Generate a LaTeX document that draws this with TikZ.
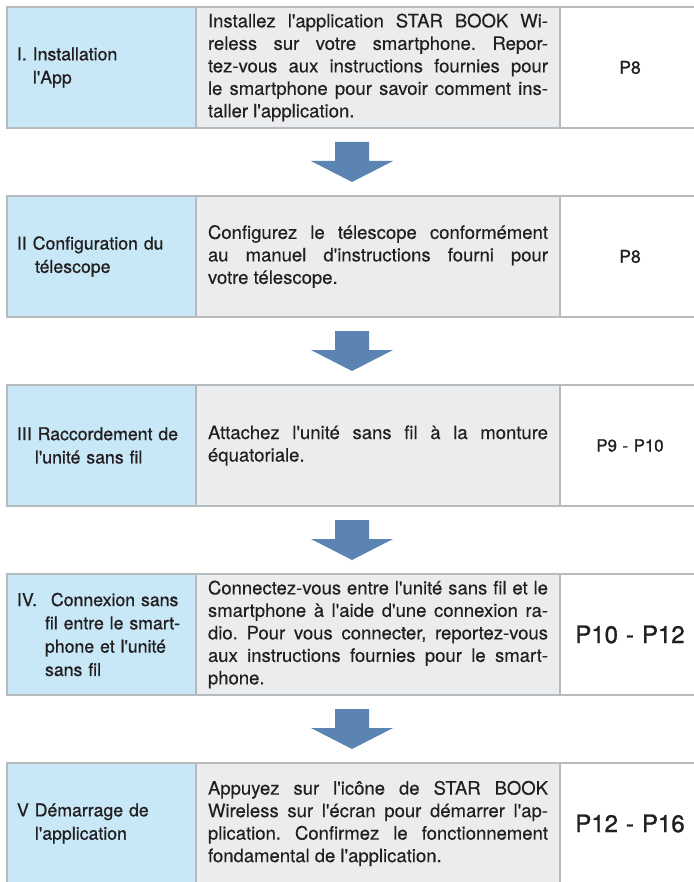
\documentclass[tikz,border=0pt]{standalone}
\usepackage{fontspec}
\setmainfont{TeX Gyre Heros}[Ligatures=TeXOff,FakeBold=0.3]
\newfontfamily\medfont{TeX Gyre Heros}[Ligatures=TeXOff,FakeBold=0.8]
\newfontfamily\pgfont{TeX Gyre Heros}[Ligatures=TeXOff,FakeBold=1.2]
\usetikzlibrary{positioning,calc}

\definecolor{labblue}{HTML}{C8E8F8}
\definecolor{txtgrey}{HTML}{EBECEE}
\definecolor{rulegrey}{HTML}{B7BBBE}
\definecolor{flowblue}{HTML}{5B84B3}
\definecolor{ink}{HTML}{231F20}

% block arrow from the bottom of one row to the top of the next
\newcommand{\flowarrow}[2]{%
  \fill[flowblue] ($(#1.south west)+(328,14)$) -- ++(34,0) -- ++(0,19) -- ++(24,0)
    -- ($(#2.north west)+(345,-14)$) -- ($(#1.south west)+(304,33)$) -- ++(24,0) -- cycle;}

\frenchspacing
\begin{document}
\begin{tikzpicture}[x=1pt,y=-1pt]
	\tikzset{cell/.style={draw=rulegrey, line width=2pt, minimum height=121pt, inner ysep=0pt, outer sep=0pt, text=ink}}
	\tikzset{labcell/.style={cell, fill=labblue, text width=169pt, inner xsep=10pt, align=left, anchor=north west, font=\medfont\fontsize{17.7}{23.3}\selectfont}}
	\tikzset{txtcell/.style={cell, fill=txtgrey, text width=340pt, inner xsep=12pt, align=justify, font=\fontsize{18.5}{22.5}\selectfont}}
	\tikzset{pgcell/.style={cell, fill=white, text width=116pt, inner xsep=12pt, align=center, font=\pgfont\fontsize{17.5}{21}\selectfont}}
	\tikzset{bigpg/.style={pgcell, font=\pgfont\fontsize{24}{28}\selectfont}}

	\useasboundingbox (0,0) rectangle (693,882);
	\fill[white] (0,0) rectangle (693,882);

	% I
	\node[labcell] (lab1) at (7,7) {I. Installation\\\hspace*{16pt}l'App};
	\node[txtcell, right=0pt of lab1] (txt1) {Installez l'application STAR BOOK Wi-\linebreak reless sur votre smartphone. Repor-\linebreak tez-vous aux instructions fournies pour\linebreak le smartphone pour savoir comment ins-\linebreak taller l'application.};
	\node[pgcell, right=0pt of txt1] (pg1) {P8};

	% II
	\node[labcell] (lab2) at (7,196) {II Configuration du\\\hspace*{18pt}télescope};
	\node[txtcell, right=0pt of lab2] (txt2) {Configurez le télescope conformément\linebreak au manuel d'instructions fourni pour\linebreak votre télescope.};
	\node[pgcell, right=0pt of txt2] (pg2) {P8};

	% III
	\node[labcell] (lab3) at (7,385) {III Raccordement de\\\hspace*{18pt}l'unité sans fil};
	\node[txtcell, right=0pt of lab3] (txt3) {Attachez l'unité sans fil à la monture\linebreak équatoriale.};
	\node[pgcell, font=\pgfont\fontsize{16.8}{21}\selectfont, right=0pt of txt3] (pg3) {P9 - P10};

	% IV
	\node[labcell] (lab4) at (7,574) {IV.\hspace{8pt} Connexion sans\\\hspace*{28pt}fil entre le smart-\\\hspace*{28pt}phone et l'unité\\\hspace*{28pt}sans fil};
	\node[txtcell, right=0pt of lab4] (txt4) {Connectez-vous entre l'unité sans fil et le\linebreak smartphone à l'aide d'une connexion ra-\linebreak dio. Pour vous connecter, reportez-vous\linebreak aux instructions fournies pour le smart-\linebreak phone.};
	\node[bigpg, right=0pt of txt4] (pg4) {P10 - P12};

	% V
	\node[labcell] (lab5) at (7,763) {V Démarrage de\\\hspace*{18pt}l'application};
	\node[txtcell, right=0pt of lab5] (txt5) {Appuyez sur l'icône de STAR BOOK\linebreak Wireless sur l'écran pour démarrer l'ap-\linebreak plication. Confirmez le fonctionnement\linebreak fondamental de l'application.};
	\node[bigpg, right=0pt of txt5] (pg5) {P12 - P16};

	\flowarrow{lab1}{lab2}
	\flowarrow{lab2}{lab3}
	\flowarrow{lab3}{lab4}
	\flowarrow{lab4}{lab5}
\end{tikzpicture}
\end{document}
